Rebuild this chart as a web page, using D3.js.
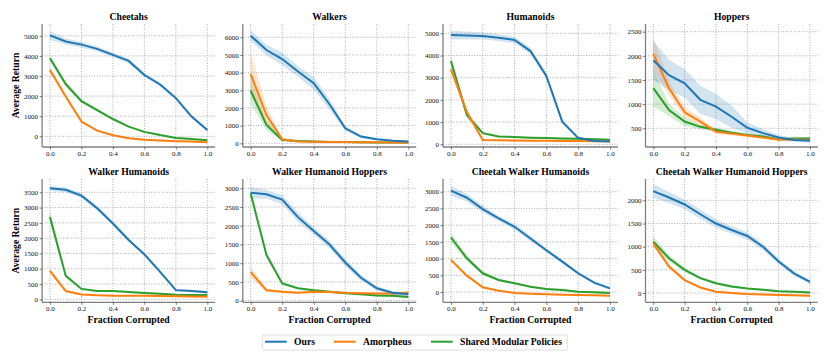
<!DOCTYPE html>
<html><head><meta charset="utf-8">
<script src="https://cdn.jsdelivr.net/npm/d3@7"></script>
<style>body{margin:0;background:#fff}svg{display:block}text{font-family:"Liberation Serif","Times New Roman",serif}</style>
</head><body>
<script>
const fractions = [0,0.1,0.2,0.3,0.4,0.5,0.6,0.7,0.8,0.9,1.0];
const xTickValues = [0,0.2,0.4,0.6,0.8,1.0];
const titles = ["Cheetahs","Walkers","Humanoids","Hoppers","Walker Humanoids","Walker Humanoid Hoppers","Cheetah Walker Humanoids","Cheetah Walker Humanoid Hoppers"];
const seriesNames = ["Ours","Amorpheus","Shared Modular Policies"];
const colors = ["#1f77b4","#ff7f0e","#2ca02c"];
const yTickValues = [
  [0,1000,2000,3000,4000,5000],
  [0,1000,2000,3000,4000,5000,6000],
  [0,1000,2000,3000,4000,5000],
  [500,1000,1500,2000,2500],
  [0,500,1000,1500,2000,2500,3000,3500],
  [0,500,1000,1500,2000,2500,3000],
  [0,500,1000,1500,2000,2500,3000],
  [0,500,1000,1500,2000]
];
const yDomains = [[-532,5587],[-209,6752],[-122,5419],[113,2659],[-98,3935],[-43,3248],[-308,3380],[-200,2460]];

// mean values per panel: [Ours, Amorpheus, SMP]
const ours = [
  [5020,4720,4560,4350,4050,3750,3050,2580,1900,980,310],
  [6090,5280,4770,4060,3400,2210,850,380,230,150,100],
  [4920,4900,4880,4800,4700,4200,3080,1020,290,150,130],
  [1910,1600,1430,1090,950,740,510,400,310,260,240],
  [3630,3580,3390,2980,2480,1940,1470,900,300,270,230],
  [2880,2840,2700,2230,1860,1500,1020,610,330,210,170],
  [3030,2820,2480,2200,1950,1600,1250,910,560,280,110],
  [2200,2060,1910,1700,1500,1360,1230,1000,680,420,240]
];
const amorpheus = [
  [3300,1980,730,280,50,-100,-170,-210,-240,-260,-290],
  [3920,1600,230,100,90,80,70,60,60,50,40],
  [3380,1450,190,180,170,160,155,150,145,140,140],
  [2040,1330,830,640,430,390,350,310,270,270,260],
  [930,270,160,130,120,120,120,110,100,90,80],
  [760,280,240,210,240,230,210,200,190,190,210],
  [960,490,140,40,-30,-50,-70,-80,-90,-100,-110],
  [1070,570,280,120,30,0,-20,-30,-40,-50,-60]
];
const smp = [
  [3880,2600,1750,1300,860,480,220,60,-80,-130,-200],
  [2980,1040,190,130,100,80,70,60,50,50,50],
  [3750,1320,500,350,330,300,280,260,250,230,200],
  [1330,880,640,530,470,410,360,330,270,290,290],
  [2690,770,340,270,270,240,210,180,150,140,140],
  [2860,1220,460,330,280,240,200,170,140,130,100],
  [1630,1010,560,360,260,160,90,60,10,-10,-30],
  [1110,750,500,320,210,140,100,70,40,30,10]
];
// confidence band half-widths
const oursErr = [
  [220,150,150,120,120,120,100,100,100,80,80],
  [300,300,350,300,350,300,150,80,60,50,50],
  [200,180,160,150,150,150,120,80,50,40,40],
  [400,320,290,290,260,230,110,80,50,40,40],
  [80,80,80,70,70,60,60,50,40,40,40],
  [150,120,120,120,100,100,100,80,60,50,50],
  [150,120,100,80,80,80,60,60,50,40,40],
  [150,120,100,100,90,80,80,70,60,50,40]
];
const amorpheusErr = [
  [150,120,80,60,40,30,30,30,30,30,30],
  [1200,500,60,50,50,60,50,40,40,40,40],
  [200,150,40,30,30,30,30,30,30,30,30],
  [340,150,100,80,40,40,30,30,30,30,30],
  [80,40,30,20,20,20,20,20,20,20,20],
  [150,40,30,30,30,30,30,30,30,30,60],
  [60,40,30,20,20,20,20,20,20,20,20],
  [70,50,30,20,20,20,20,20,20,20,20]
];
const smpErr = [
  [150,120,100,80,60,50,40,40,40,40,40],
  [750,300,60,40,30,30,30,30,30,30,30],
  [250,150,60,40,40,40,40,40,40,40,40],
  [380,130,90,50,40,40,30,30,30,40,30],
  [200,80,40,30,30,30,30,30,30,30,30],
  [80,100,50,30,30,30,30,30,30,30,30],
  [150,80,50,40,30,30,30,30,30,30,30],
  [120,70,50,30,30,30,20,20,20,20,20]
];

const W = 830, H = 356;
const colLeft = [42.1, 242.8, 443, 645.5];
const colRight = [215.2, 416.2, 617.9, 817.8];
const rowTop = [24, 179];
const rowBottom = [147, 302.3];

const svg = d3.select("body").append("svg").attr("width", W).attr("height", H);
const FONT = 9.7;

titles.forEach((title, i) => {
  const r = Math.floor(i / 4), c = i % 4;
  const x = d3.scaleLinear().domain([-0.05, 1.05]).range([colLeft[c], colRight[c]]);
  const y = d3.scaleLinear().domain(yDomains[i]).range([rowBottom[r], rowTop[r]]);
  const g = svg.append("g");

  // grid
  const grid = g.append("g").attr("stroke", "#9a9a9a").attr("stroke-width", 0.8).attr("stroke-dasharray", "1,1.6");
  xTickValues.forEach(v => grid.append("line").attr("x1", x(v)).attr("x2", x(v)).attr("y1", rowTop[r]).attr("y2", rowBottom[r]));
  yTickValues[i].forEach(v => grid.append("line").attr("x1", colLeft[c]).attr("x2", colRight[c]).attr("y1", y(v)).attr("y2", y(v)));

  const means = [ours[i], amorpheus[i], smp[i]];
  const errs = [oursErr[i], amorpheusErr[i], smpErr[i]];
  const clipId = "clip" + i;
  svg.append("clipPath").attr("id", clipId).append("rect")
    .attr("x", colLeft[c]).attr("y", rowTop[r]).attr("width", colRight[c] - colLeft[c]).attr("height", rowBottom[r] - rowTop[r]);
  const pg = g.append("g").attr("clip-path", `url(#${clipId})`);
  [2, 1, 0].forEach(s => {
    const area = d3.area().x((d, k) => x(fractions[k])).y0((d, k) => y(d - errs[s][k])).y1((d, k) => y(d + errs[s][k]));
    pg.append("path").datum(means[s]).attr("d", area).attr("fill", colors[s]).attr("fill-opacity", 0.2);
  });
  [2, 1, 0].forEach(s => {
    const line = d3.line().x((d, k) => x(fractions[k])).y(d => y(d));
    pg.append("path").datum(means[s]).attr("d", line).attr("fill", "none").attr("stroke", colors[s]).attr("stroke-width", 2);
  });

  // axes
  const xAxis = d3.axisBottom(x).tickValues(xTickValues).tickFormat(d3.format(".1f")).tickSize(2.5).tickPadding(1.5);
  const ax = g.append("g").attr("transform", `translate(0,${rowBottom[r]})`).call(xAxis);
  const yAxis = d3.axisLeft(y).tickValues(yTickValues[i]).tickFormat(d3.format("d")).tickSize(2.5).tickPadding(1.5);
  const ay = g.append("g").attr("transform", `translate(${colLeft[c]},0)`).call(yAxis);
  [ax, ay].forEach(a => {
    a.select(".domain").attr("stroke", "#7f7f7f").attr("stroke-width", 1.3);
    a.selectAll(".tick line").attr("stroke", "#555").attr("stroke-width", 0.8);
    a.selectAll(".tick text").attr("fill", "#111").style("font-size", "7px").style("font-family", "'Liberation Serif',serif");
  });
  ax.select(".domain").attr("d", `M${colLeft[c]},0H${colRight[c]}`);
  ay.select(".domain").attr("d", `M0,${rowTop[r]}V${rowBottom[r]}`);

  // title
  g.append("text").attr("x", (colLeft[c] + colRight[c]) / 2).attr("y", rowTop[r] - 4.5)
    .attr("text-anchor", "middle").attr("font-weight", "bold").attr("font-size", FONT).attr("fill", "#000").text(title);
  if (c === 0) {
    g.append("text").attr("transform", `translate(16,${(rowTop[r] + rowBottom[r]) / 2}) rotate(-90)`)
      .attr("text-anchor", "middle").attr("dy", "0.35em").attr("font-weight", "bold").attr("font-size", FONT).text("Average Return");
  }
  if (r === 1) {
    g.append("text").attr("x", (colLeft[c] + colRight[c]) / 2).attr("y", 323)
      .attr("text-anchor", "middle").attr("font-weight", "bold").attr("font-size", FONT).text("Fraction Corrupted");
  }
});

// legend
const lg = svg.append("g");
lg.append("rect").attr("x", 262.3).attr("y", 335).attr("width", 305).attr("height", 15).attr("rx", 1.5)
  .attr("fill", "#fff").attr("stroke", "#d6d6d6").attr("stroke-width", 0.8);
const legendX = [265, 334, 431];
seriesNames.forEach((name, s) => {
  lg.append("line").attr("x1", legendX[s]).attr("x2", legendX[s] + 21.7).attr("y1", 341.7).attr("y2", 341.7)
    .attr("stroke", colors[s]).attr("stroke-width", 2);
  lg.append("text").attr("x", legendX[s] + 29).attr("y", 341.7).attr("dy", "0.35em")
    .attr("font-weight", "bold").attr("font-size", FONT).text(name);
});
</script>
</body></html>
